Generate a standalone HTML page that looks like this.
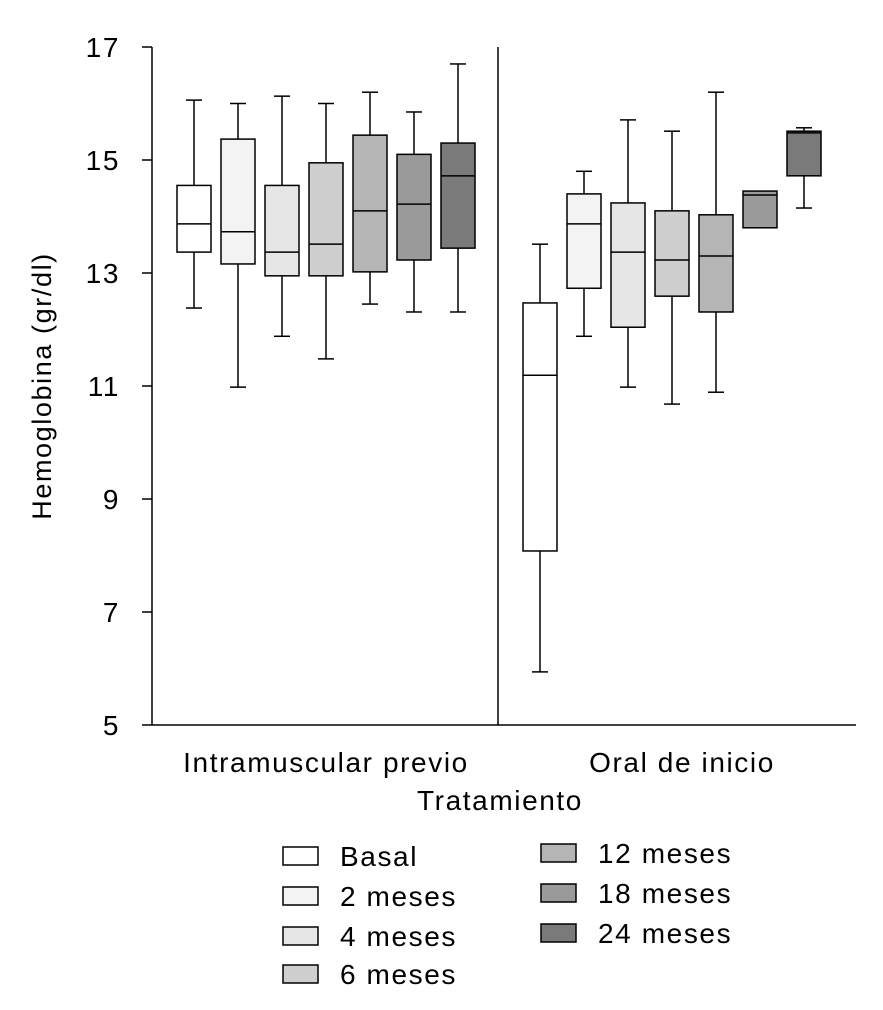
<!DOCTYPE html>
<html><head><meta charset="utf-8"><style>
body{margin:0;background:#fff;}
svg{display:block;font-family:"Liberation Sans",Arial,sans-serif;}
text{letter-spacing:1.6px;}
</style></head><body>
<svg id="chart" width="883" height="1010"></svg>
<script>
const seriesNames=["Basal","2 meses","4 meses","6 meses","12 meses","18 meses","24 meses"];
const seriesColors=["#ffffff","#f3f3f3","#e6e6e6","#cfcfcf","#b5b5b5","#9a9a9a","#7a7a7a"];
const groups=["Intramuscular previo","Oral de inicio"];
const yTicks=[5,7,9,11,13,15,17];
// [whiskerLow, q1, median, q3, whiskerHigh]
const intramuscular=[
[12.38,13.37,13.87,14.55,16.06],
[10.98,13.16,13.73,15.37,16.0],
[11.88,12.95,13.37,14.55,16.13],
[11.48,12.95,13.51,14.95,16.0],
[12.45,13.02,14.1,15.44,16.2],
[12.31,13.23,14.22,15.1,15.85],
[12.31,13.44,14.72,15.3,16.7]];
const oral=[
[5.94,8.08,11.19,12.47,13.51],
[11.88,12.73,13.87,14.4,14.8],
[10.98,12.04,13.37,14.24,15.71],
[10.68,12.59,13.23,14.1,15.51],
[10.89,12.31,13.3,14.03,16.2],
[13.8,13.8,14.38,14.45,14.45],
[14.15,14.72,15.48,15.51,15.57]];
const data=[intramuscular,oral];
const NS="http://www.w3.org/2000/svg";
const svg=document.getElementById('chart');
function el(t,a,p){const e=document.createElementNS(NS,t);for(const k in a)e.setAttribute(k,a[k]);(p||svg).appendChild(e);return e;}
const y=v=>725-(v-5)*56.5;
const groupStart=[194,540],step=44,bw=34;
const x=(g,i)=>groupStart[g]+i*step;
let a=el('line',{x1:152,y1:47,x2:152,y2:725,stroke:'#000','stroke-width':1.5});

a=el('line',{x1:152,y1:725,x2:856,y2:725,stroke:'#000','stroke-width':1.5});

a=el('line',{x1:498,y1:47,x2:498,y2:725,stroke:'#000','stroke-width':1.5});

yTicks.forEach(t=>{
 const l=el('line',{x1:142,y1:y(t),x2:152,y2:y(t),stroke:'#000','stroke-width':1.5});
 
 const tx=el('text',{x:120,y:y(t)+10,'text-anchor':'end','font-size':28});tx.textContent=t;
 
});
let tt=el('text',{transform:'translate(51,386) rotate(-90)','text-anchor':'middle','font-size':27});
tt.textContent='Hemoglobina (gr/dl)';
[[326,groups[0]],[682,groups[1]]].forEach(([cx,s])=>{const t=el('text',{x:cx,y:772,'text-anchor':'middle','font-size':28});t.textContent=s;
 });
tt=el('text',{x:500,y:810,'text-anchor':'middle','font-size':28});tt.textContent='Tratamiento';

data.forEach((gd,g)=>gd.forEach((d,i)=>{
 const cx=x(g,i);
 const gr=el('g',{});
 
 const st={stroke:'#000','stroke-width':1.5};
 if(d[4]>d[3]){el('line',Object.assign({x1:cx,x2:cx,y1:y(d[4]),y2:y(d[3])},st),gr);el('line',Object.assign({x1:cx-8,x2:cx+8,y1:y(d[4]),y2:y(d[4])},st),gr);}
 if(d[0]<d[1]){el('line',Object.assign({x1:cx,x2:cx,y1:y(d[1]),y2:y(d[0])},st),gr);el('line',Object.assign({x1:cx-8,x2:cx+8,y1:y(d[0]),y2:y(d[0])},st),gr);}
 el('rect',Object.assign({x:cx-bw/2,y:y(d[3]),width:bw,height:y(d[1])-y(d[3]),fill:seriesColors[i]},st),gr);
 el('line',Object.assign({x1:cx-bw/2,x2:cx+bw/2,y1:y(d[2]),y2:y(d[2])},st),gr);
}));
const legPos=[[283,856],[283,896],[283,936],[283,974],[541,853],[541,893],[541,933]];
seriesNames.forEach((n,i)=>{
 const [lx,ly]=legPos[i];
 const gr=el('g',{});
 el('rect',{x:lx,y:ly-9,width:35,height:18,fill:seriesColors[i],stroke:'#000','stroke-width':1.5},gr);
 const t=el('text',{x:lx+57,y:ly+10,'font-size':28},gr);t.textContent=n;
});
</script>
</body></html>
